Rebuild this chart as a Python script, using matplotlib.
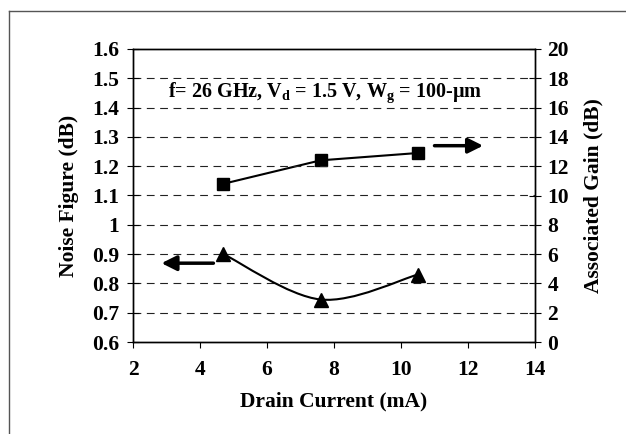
import matplotlib
matplotlib.use("Agg")
import matplotlib.pyplot as plt
from matplotlib.path import Path
from matplotlib.patches import PathPatch
from matplotlib.lines import Line2D
from matplotlib.ticker import FuncFormatter

# ---- data ----
drain_current = [4.7, 7.6, 10.5]          # mA
noise_figure = [0.90, 0.745, 0.83]        # dB (left axis)
assoc_gain = [10.8, 12.4, 12.9]           # dB (right axis)

x_ticks = [2, 4, 6, 8, 10, 12, 14]
nf_ticks = [0.6, 0.7, 0.8, 0.9, 1.0, 1.1, 1.2, 1.3, 1.4, 1.5, 1.6]
gain_ticks = [0, 2, 4, 6, 8, 10, 12, 14, 16, 18, 20]
annotation = r"f= 26 GHz, V$_\mathbf{d}$ = 1.5 V, W$_\mathbf{g}$ = 100-$\mathbf{\mu}$m"

plt.rcParams['font.family'] = ['Liberation Serif', 'DejaVu Serif']
plt.rcParams['font.weight'] = 'bold'
plt.rcParams['mathtext.fontset'] = 'custom'
plt.rcParams['mathtext.rm'] = 'Liberation Serif:bold'
plt.rcParams['mathtext.bf'] = 'Liberation Serif:bold'
plt.rcParams['mathtext.it'] = 'Liberation Serif:bold'

fig = plt.figure(figsize=(6.26, 4.34), dpi=100)
ax = fig.add_axes([133/626, 1-342/434, (535-133)/626, (342-49)/434])
ax2 = ax.twinx()

# outer frame (left and top edges visible)
fy = 1 - 11/434
fx = 9/626
fig.add_artist(Line2D([fx, fx], [0, fy], transform=fig.transFigure, color='#555555', lw=1.0))
fig.add_artist(Line2D([fx, 1], [fy, fy], transform=fig.transFigure, color='#555555', lw=1.0))

ax.set_xlim(2, 14)
ax.set_ylim(0.6, 1.6)
ax2.set_ylim(0, 20)
ax.set_xticks(x_ticks)
ax.set_yticks(nf_ticks)
ax2.set_yticks(gain_ticks)
ax.yaxis.set_major_formatter(FuncFormatter(lambda v, p: f"{v:g}"))
ax2.yaxis.set_major_formatter(FuncFormatter(lambda v, p: f"{v:g}"))

fs = 15.5
for a in (ax, ax2):
    for s in a.spines.values():
        s.set_color('black')
        s.set_linewidth(1.0)
ax.tick_params(axis='y', direction='inout', length=8, width=0.8, labelsize=fs, pad=6)
ax2.tick_params(axis='y', direction='inout', length=8, width=0.8, labelsize=fs, pad=5)
ax.tick_params(axis='x', direction='out', length=4, width=0.8, labelsize=fs, pad=9)

# dashed gridlines
for v in nf_ticks[1:-1]:
    ax.axhline(v, color='#222222', lw=0.8, dashes=(7, 5), zorder=1)

# noise figure: smoothed line (Excel-style bezier through the points)
xs, ys = drain_current, noise_figure
n = len(xs)
verts = [(xs[0], ys[0])]
codes = [Path.MOVETO]
for i in range(n - 1):
    p0 = (xs[max(i-1, 0)], ys[max(i-1, 0)])
    p1 = (xs[i], ys[i])
    p2 = (xs[i+1], ys[i+1])
    p3 = (xs[min(i+2, n-1)], ys[min(i+2, n-1)])
    c1 = (p1[0] + (p2[0]-p0[0])/6, p1[1] + (p2[1]-p0[1])/6)
    c2 = (p2[0] - (p3[0]-p1[0])/6, p2[1] - (p3[1]-p1[1])/6)
    verts += [c1, c2, p2]
    codes += [Path.CURVE4]*3
ax.add_patch(PathPatch(Path(verts, codes), fill=False, edgecolor='black', lw=1.5, zorder=3))
ax.plot(drain_current, noise_figure, linestyle='none', marker='^', markersize=10,
        color='black', zorder=4)

# associated gain
ax2.plot(drain_current, assoc_gain, color='black', lw=1.5, marker='s', markersize=8.5, zorder=4)

# arrows
ax.annotate('', xy=(2.85, 0.869), xytext=(4.4, 0.869),
            arrowprops=dict(arrowstyle='-|>,head_length=0.9,head_width=0.45',
                            color='black', lw=2.5, shrinkA=0, shrinkB=0))
ax2.annotate('', xy=(12.45, 13.4), xytext=(11.0, 13.4),
             arrowprops=dict(arrowstyle='-|>,head_length=0.9,head_width=0.45',
                             color='black', lw=2.5, shrinkA=0, shrinkB=0))

ax.text(7.72, 1.45, annotation, ha='center', va='center', fontsize=14.5,
        fontweight='bold', zorder=5,
        bbox=dict(facecolor='white', edgecolor='none', pad=1))

ax.set_xlabel('Drain Current (mA)', fontsize=fs, fontweight='bold', labelpad=8)
ax.set_ylabel('Noise Figure (dB)', fontsize=fs, fontweight='bold', labelpad=9)
ax2.set_ylabel('Associated Gain (dB)', fontsize=fs, fontweight='bold', labelpad=10)

ax.set_zorder(ax2.get_zorder() + 1)
ax.patch.set_visible(False)

fig.savefig('out.png', dpi=100)
